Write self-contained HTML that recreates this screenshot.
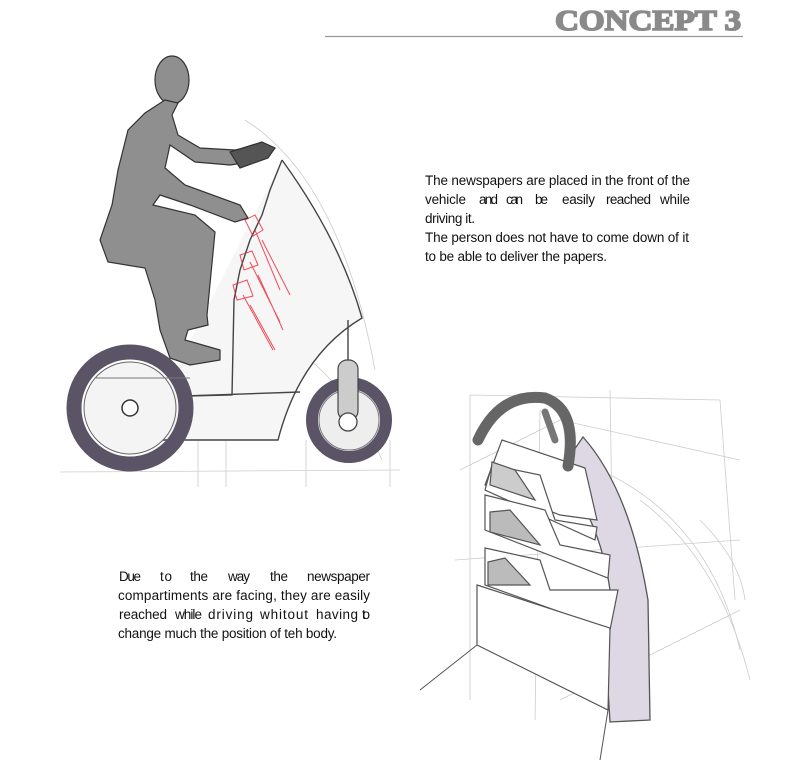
<!DOCTYPE html>
<html><head><meta charset="utf-8"><style>
html,body{margin:0;padding:0;background:#fff;}
body{width:791px;height:781px;position:relative;overflow:hidden;}
</style></head><body>
<svg width="791" height="781" style="position:absolute;left:0;top:0">
<text x="555" y="30" font-family="Liberation Serif" font-weight="bold" font-size="28" fill="#8a8a8a" stroke="#8a8a8a" stroke-width="1.6" textLength="186" lengthAdjust="spacingAndGlyphs">CONCEPT 3</text>
<line x1="325" y1="36.5" x2="743" y2="36.5" stroke="#999" stroke-width="1.2"/>

<g font-family="Liberation Sans" font-size="13.5" fill="#111" lengthAdjust="spacingAndGlyphs">
<text x="425" y="185" textLength="265">The newspapers are placed in the front of the</text>
<text x="425" y="204" textLength="41">vehicle</text>
<text x="479" y="204" textLength="19">and</text>
<text x="506" y="204" textLength="17">can</text>
<text x="535" y="204" textLength="13">be</text>
<text x="562" y="204" textLength="33">easily</text>
<text x="606" y="204" textLength="45">reached</text>
<text x="660" y="204" textLength="30">while</text>
<text x="425" y="223" textLength="50">driving it.</text>
<text x="425" y="242" textLength="264">The person does not have to come down of it</text>
<text x="425" y="261" textLength="182">to be able to deliver the papers.</text>

<text x="119" y="581" textLength="22">Due</text>
<text x="160" y="581" textLength="12">to</text>
<text x="190" y="581" textLength="18">the</text>
<text x="228" y="581" textLength="22">way</text>
<text x="270" y="581" textLength="18">the</text>
<text x="307" y="581" textLength="63">newspaper</text>
<text x="118" y="600" textLength="252">compartiments are facing, they are easily</text>
<text x="119" y="619" textLength="48">reached</text>
<text x="175" y="619" textLength="27">while</text>
<text x="208" y="619" textLength="45">driving</text>
<text x="260" y="619" textLength="48">whitout</text>
<text x="316" y="619" textLength="42">having</text>
<text x="362" y="619" textLength="8">to</text>
<text x="118" y="638" textLength="219">change much the position of teh body.</text>
</g>

<g stroke="#ccc" stroke-width="0.8" fill="none">
<line x1="60" y1="472" x2="400" y2="470"/>
<line x1="198" y1="440" x2="198" y2="487"/>
<line x1="226" y1="440" x2="226" y2="487"/>
<line x1="306" y1="440" x2="306" y2="487"/>
<line x1="390" y1="440" x2="390" y2="487"/>
<path d="M245 120 Q340 180 375 370"/>
<path d="M200 300 Q330 340 382 460"/>
</g>
<g stroke="#444" stroke-width="1.4" fill="none">
<path d="M282 160 Q340 240 362 318 Q300 355 278 440 L140 440" fill="#f6f6f6"/>
<path d="M282 160 L270 190 L262 215 L250 240 L240 270 L234 300 L232 395 L185 396"/>
<line x1="185" y1="396" x2="300" y2="392"/>
<line x1="348" y1="360" x2="348" y2="320"/>
</g>
<g stroke="#e23" stroke-width="1" fill="none" opacity="0.8">
<path d="M245 220 l10 -5 l8 15 l-10 6z M240 255 l12 -4 l6 14 l-14 5z M233 285 l14 -5 l6 16 l-16 4z"/>
<path d="M255 230 l25 60 M262 240 l28 55 M250 262 l30 60 M258 275 l25 55 M243 295 l30 55 M250 305 l25 45"/>
</g>
<circle cx="130" cy="408" r="56" fill="none" stroke="#5a5466" stroke-width="15"/>
<circle cx="130" cy="408" r="46" fill="#f4f4f4" stroke="#666" stroke-width="1"/>
<circle cx="130" cy="408" r="8" fill="#fff" stroke="#333" stroke-width="1.5"/>
<line x1="95" y1="378" x2="190" y2="378" stroke="#777"/>
<circle cx="349" cy="420" r="37" fill="none" stroke="#5a5466" stroke-width="12"/>
<circle cx="349" cy="420" r="30" fill="#eee" stroke="#777" stroke-width="1"/>
<rect x="338" y="360" width="20" height="60" rx="9" fill="#ccc" stroke="#444" stroke-width="1.2"/>
<circle cx="348" cy="422" r="9" fill="#fff" stroke="#444" stroke-width="1.3"/>
<g fill="#8f8f8f" stroke="#333" stroke-width="1.2">
<ellipse cx="172" cy="80" rx="17" ry="24"/>
<path d="M165 100 L178 103 L172 115 L178 135 L200 148 L235 150 L260 145 L268 152 L250 162 L230 165 L195 162 L170 145 L165 168 L185 185 L240 205 L248 218 L235 222 L190 205 L160 195 L153 205 L195 215 L215 232 L207 315 L208 325 L188 330 L185 340 L220 350 L220 360 L190 365 L170 358 L160 330 L155 300 L145 268 L108 262 L100 240 L112 205 L118 170 L128 130 L145 113 Z"/>
<path d="M230 152 L262 142 L275 148 L268 158 L240 168 Z" fill="#555"/>
</g>

<g stroke="#ccc" stroke-width="0.8" fill="none">
<path d="M470 395 L720 400 M470 395 L470 700 M720 400 L735 600 M610 390 L615 700 M540 410 L535 720 M460 470 L560 420 L740 460 M455 560 L740 540 M560 700 L740 610 M600 470 Q710 520 740 650 M640 500 Q720 560 750 680 M700 520 Q740 560 745 600"/>
</g>
<path d="M583 437 Q630 490 648 600 L650 720 L610 722 L605 640 L610 590 Q600 520 560 470 Z" fill="#ddd8e4" stroke="#555" stroke-width="1.3"/>
<g stroke="#555" stroke-width="1.2" fill="#fff">
<path d="M502 440 L585 468 L597 520 L560 515 L485 485 Z"/>
<path d="M492 465 L540 475 L555 520 L597 527 L595 540 L485 490 Z"/>
<path d="M492 462 L515 470 L535 500 L490 485 Z" fill="#ccc"/>
<path d="M485 495 L545 510 L560 545 L610 555 L608 578 L485 530 Z"/>
<path d="M490 512 L510 510 L540 545 L490 532 Z" fill="#bbb"/>
<path d="M485 548 L540 560 L550 590 L618 590 L610 630 L485 585 Z"/>
<path d="M488 562 L505 558 L530 585 L488 585 Z" fill="#bbb"/>
<path d="M477 585 L610 628 L608 710 L477 645 Z"/>
</g>
<g stroke="#555" stroke-width="1" fill="none">
<line x1="477" y1="645" x2="420" y2="690"/>
<line x1="608" y1="710" x2="600" y2="760"/>
</g>
<path d="M478 440 Q500 392 545 398 Q578 410 568 466" fill="none" stroke="#666" stroke-width="11" stroke-linecap="round"/>
<path d="M545 412 L555 440" stroke="#777" stroke-width="7" stroke-linecap="round"/>
</svg>
</body></html>
